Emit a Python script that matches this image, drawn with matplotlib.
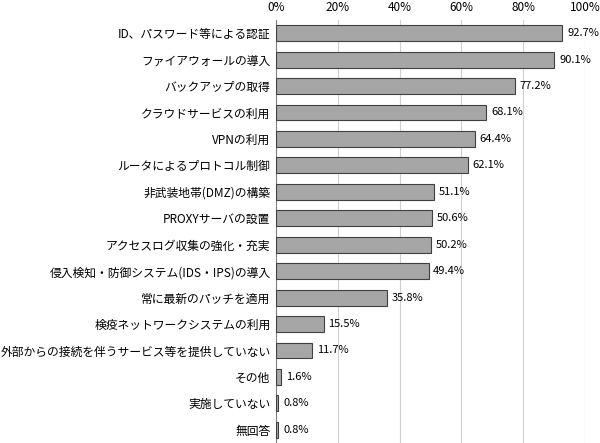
import matplotlib
matplotlib.use("Agg")
import matplotlib.pyplot as plt

plt.rcParams["font.family"] = "Noto Sans CJK JP"

categories = ["ID、パスワード等による認証", "ファイアウォールの導入", "バックアップの取得",
              "クラウドサービスの利用", "VPNの利用", "ルータによるプロトコル制御",
              "非武装地帯(DMZ)の構築", "PROXYサーバの設置", "アクセスログ収集の強化・充実",
              "侵入検知・防御システム(IDS・IPS)の導入", "常に最新のパッチを適用",
              "検疫ネットワークシステムの利用", "外部からの接続を伴うサービス等を提供していない",
              "その他", "実施していない", "無回答"]
values = [92.7, 90.1, 77.2, 68.1, 64.4, 62.1, 51.1, 50.6, 50.2, 49.4, 35.8, 15.5, 11.7, 1.6, 0.8, 0.8]
xticks = [0, 20, 40, 60, 80, 100]

fig = plt.figure(figsize=(6, 4.43), dpi=100)
ax = fig.add_axes([0.46, 0.0, 0.515, 0.955])
y = list(range(len(categories)))
ax.barh(y, values, height=0.6, color="#a6a6a6", edgecolor="#404040", linewidth=0.8, zorder=3)
for yi, v in zip(y, values):
    ax.text(v + 1.5, yi, f"{v:.1f}%", va="center", ha="left", fontsize=8)
ax.set_yticks(y)
ax.set_yticklabels(categories, fontsize=8.5)
ax.set_ylim(len(categories) - 0.5, -0.5)
ax.set_xlim(0, 100)
ax.set_xticks(xticks)
ax.set_xticklabels([f"{t}%" for t in xticks], fontsize=8.5)
ax.xaxis.tick_top()
ax.tick_params(axis="both", length=0, pad=4)
ax.grid(axis="x", color="#d0d0d0", linewidth=0.8, zorder=0)
for s in ["top", "right", "bottom"]:
    ax.spines[s].set_visible(False)
ax.spines["left"].set_color("#808080")
fig.savefig("out.png", dpi=100)
